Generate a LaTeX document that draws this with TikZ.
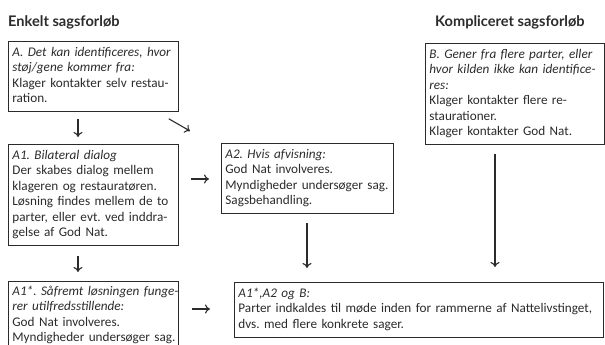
\documentclass[tikz,border=0pt]{standalone}
\usepackage{fontspec}
\setmainfont{Carlito}
\newfontfamily\headfont{Lato}
\usetikzlibrary{arrows.meta,calc}
\definecolor{ink}{HTML}{2B2B2B}
\tikzset{
  box/.style={draw=ink, line width=0.8pt, anchor=north west, inner sep=4pt,
    align=left, text=ink, font=\fontsize{13.2}{15.5}\selectfont},
  head/.style={anchor=west, inner sep=0pt, text=ink, font=\headfont\bfseries\fontsize{14.6}{16}\selectfont},
  arr/.style={draw=ink, line width=1.1pt, -{To[length=5pt,width=9pt]}}
}
\newcommand{\lines}[1]{\begin{tabular}{@{}l@{}}#1\end{tabular}}
\frenchspacing
\begin{document}
\begin{tikzpicture}[x=1pt,y=-1pt]
\useasboundingbox (0,0) rectangle (605,345);
\node[head] (tA) at (8,22) {Enkelt sagsforløb};
\node[head] (tB) at (435,22) {Kompliceret sagsforløb};

\node[box, minimum width=170pt, minimum height=70pt, text width=162pt] (A) at (8,41)
 {\lines{\itshape A. Det kan identificeres, hvor\\ \itshape støj/gene kommer fra:\\ Klager kontakter selv restau-\\ ration.}};
\node[box, minimum width=170pt, minimum height=99pt, text width=162pt] (A1) at (8,144)
 {\lines{\itshape A1. Bilateral dialog\\ Der skabes dialog mellem\\ klageren og restauratøren.\\ Løsning findes mellem de to\\ parter, eller evt. ved inddra-\\ gelse af God Nat.}};
\node[box, minimum width=170pt, text width=162pt, inner ysep=3pt] (A1s) at (8,281)
 {\lines{\itshape A1*. Såfremt løsningen funge-\\ \itshape rer utilfredsstillende:\\ God Nat involveres.\\ Myndigheder undersøger sag.}};
\node[box, minimum width=172pt, minimum height=70pt, text width=164pt] (A2) at (221,143)
 {\lines{\itshape A2. Hvis afvisning:\\ God Nat involveres.\\ Myndigheder undersøger sag.\\ Sagsbehandling.}};
\node[box, minimum width=179pt, minimum height=100pt, text width=171pt] (B) at (425,43)
 {\lines{\itshape B. Gener fra flere parter, eller\\ \itshape hvor kilden ikke kan identifice-\\ \itshape res:\\ Klager kontakter flere re-\\ staurationer.\\ Klager kontakter God Nat.}};
\node[box, minimum width=369pt, minimum height=52pt, text width=361pt] (F) at (234,282)
 {\lines{\itshape A1*,A2 og B:\\ Parter indkaldes til møde inden for rammerne af Nattelivstinget,\\ dvs. med flere konkrete sager.}};

\coordinate (xl) at (78,0);
\coordinate (xb) at (495,0);
\coordinate (xm) at (307,0);
\coordinate (y1) at (0,179);
\coordinate (y2) at (0,309);

\draw[arr, shorten <=7pt, shorten >=7pt] (A.south -| xl) -- (A1.north -| xl);
\draw[arr] ($(A.south east)+(-10,7)$) -- ($(A2.north west)+(-31,-12)$);
\draw[arr, shorten <=12pt, shorten >=12pt] (A1.east |- y1) -- (A2.west |- y1);
\draw[arr, shorten <=10pt, shorten >=9pt] (A1.south -| xl) -- (A1s.north -| xl);
\draw[arr, shorten <=9pt, shorten >=14pt] (A2.south -| xm) -- (F.north -| xm);
\draw[arr, shorten <=9pt, shorten >=15pt] (B.south -| xb) -- (F.north -| xb);
\draw[arr, shorten <=13pt, shorten >=24pt] (A1s.east |- y2) -- (F.west |- y2);
\end{tikzpicture}
\end{document}
